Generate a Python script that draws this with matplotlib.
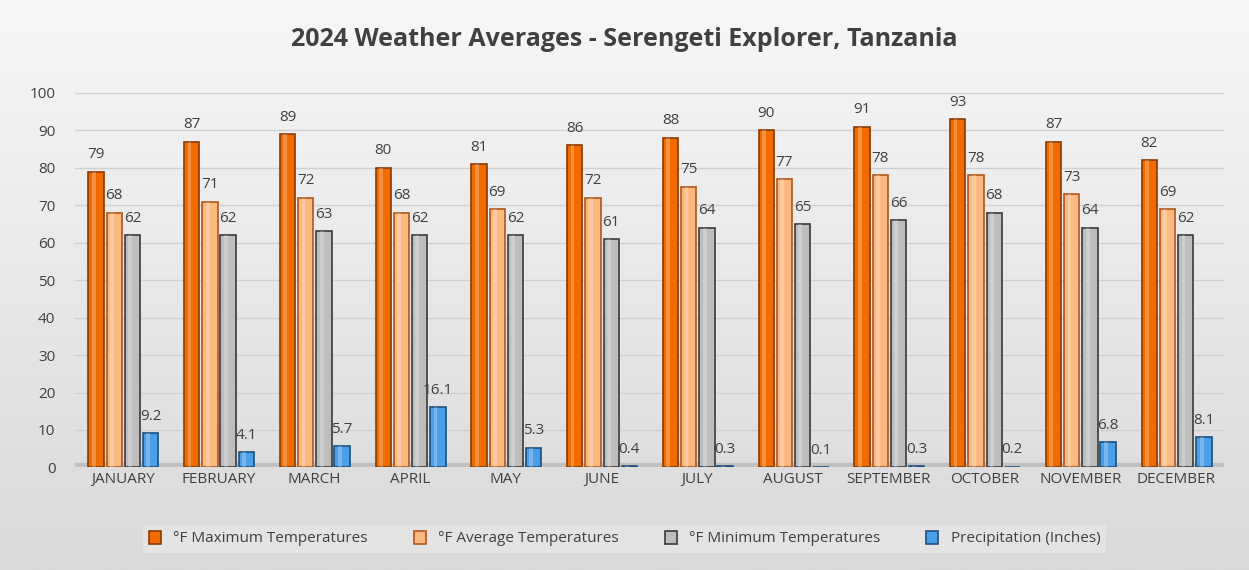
import numpy as np
import matplotlib
matplotlib.use("Agg")
import matplotlib.pyplot as plt

months = ["JANUARY", "FEBRUARY", "MARCH", "APRIL", "MAY", "JUNE", "JULY",
          "AUGUST", "SEPTEMBER", "OCTOBER", "NOVEMBER", "DECEMBER"]
max_temp = [79, 87, 89, 80, 81, 86, 88, 90, 91, 93, 87, 82]
avg_temp = [68, 71, 72, 68, 69, 72, 75, 77, 78, 78, 73, 69]
min_temp = [62, 62, 63, 62, 62, 61, 64, 65, 66, 68, 64, 62]
precip = [9.2, 4.1, 5.7, 16.1, 5.3, 0.4, 0.3, 0.1, 0.3, 0.2, 6.8, 8.1]

series = [
    ("°F Maximum Temperatures", max_temp, "#f26b00", "#8a3a00"),
    ("°F Average Temperatures", avg_temp, "#fbb982", "#b0561a"),
    ("°F Minimum Temperatures", min_temp, "#bdbdbd", "#3a3a3a"),
    ("Precipitation (Inches)", precip, "#4a9ee8", "#1b4f80"),
]

plt.rcParams['font.family'] = ['Open Sans', 'DejaVu Sans']

fig = plt.figure(figsize=(12.49, 5.70), dpi=100)
# background gradient
bg = fig.add_axes([0, 0, 1, 1], zorder=-10)
grad = np.linspace(0, 1, 256).reshape(-1, 1)
bg.imshow(grad, aspect="auto", cmap=matplotlib.colors.LinearSegmentedColormap.from_list(
    "bg", ["#f7f7f7", "#d9d9d9"]), extent=[0, 1, 0, 1])
bg.set_axis_off()

ax = fig.add_axes([0.06, 0.18, 0.92, 0.657])
ax.set_facecolor("none")
x = np.arange(len(months))
offsets = [-0.28, -0.09, 0.1, 0.29]
w = 0.16
for (name, vals, col, edge), off in zip(series, offsets):
    ax.bar(x + off, vals, w, color=col, edgecolor=edge, linewidth=1.2,
           label=name, zorder=3)
    # highlight stripe to hint at a cylinder
    ax.bar(x + off - w * 0.15, vals, w * 0.25, color="white", alpha=0.25,
           linewidth=0, zorder=4)
    for xi, v in zip(x + off, vals):
        ax.text(xi, v + 2.5, f"{v:g}", ha="center", va="bottom",
                fontsize=11, color="#404040", zorder=5)

# floor
ax.axhspan(-1.5, 1.2, color="#bfbfbf", zorder=1)
ax.set_xlim(-0.5, 11.5)
ax.set_ylim(0, 100)
ax.set_yticks(range(0, 101, 10))
ax.set_xticks(x)
ax.set_xticklabels(months)
ax.tick_params(length=0, labelsize=11, colors="#404040")
ax.tick_params(axis="y", pad=14)
ax.grid(axis="y", color="#d0d0d0", linewidth=1, zorder=0)
for s in ax.spines.values():
    s.set_visible(False)

fig.text(0.5, 0.93, "2024 Weather Averages - Serengeti Explorer, Tanzania",
         ha="center", va="center", fontsize=18, fontweight="bold", color="#404040")

leg = fig.legend(loc="center", bbox_to_anchor=(0.5, 0.055), ncol=4,
                 fontsize=11, frameon=True, fancybox=False, handlelength=0.8,
                 handleheight=0.9, columnspacing=3)
leg.get_frame().set_facecolor("#e6e6e6")
leg.get_frame().set_edgecolor("none")
for t in leg.get_texts():
    t.set_color("#404040")

fig.savefig("out.png", dpi=100)
